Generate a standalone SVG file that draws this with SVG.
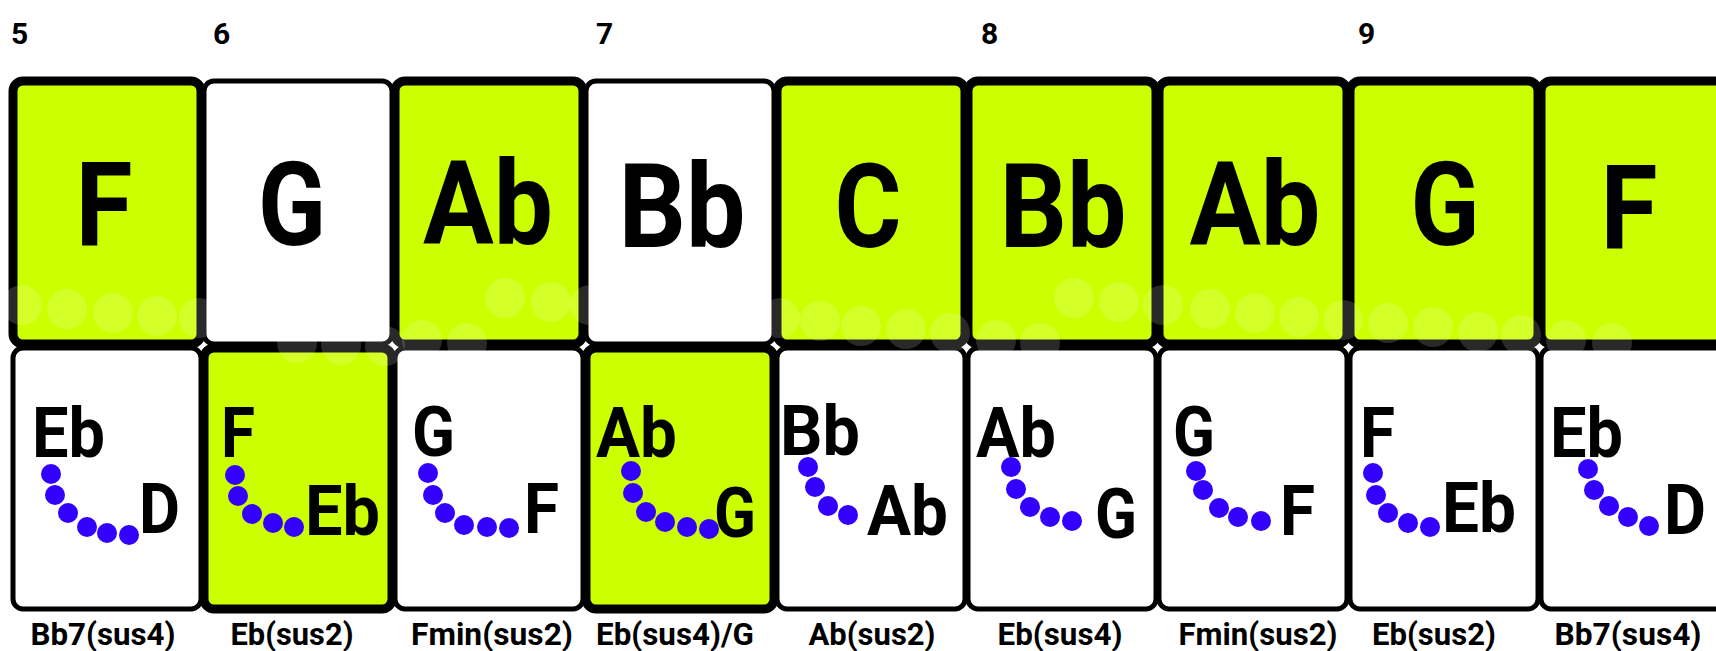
<svg xmlns="http://www.w3.org/2000/svg" width="1716" height="651" viewBox="0 0 1716 651">
<style>
.g{fill:#ccff00;stroke:#000;stroke-width:9}
.w{fill:#fff;stroke:#000;stroke-width:5}
.num{font-family:Roboto,"Liberation Sans",sans-serif;font-weight:700;font-size:30px;fill:#000}
.big{font-family:Roboto,"Liberation Sans",sans-serif;font-weight:700;font-size:117px;fill:#000;text-anchor:middle}
.nt{font-family:Roboto,"Liberation Sans",sans-serif;font-weight:700;font-size:71px;fill:#000}
.lbl{font-family:Roboto,"Liberation Sans",sans-serif;font-weight:700;font-size:31px;fill:#000;text-anchor:middle}
.dot{fill:#3300ff}
.ghost{fill:#fff;opacity:0.16}
</style>
<rect width="1716" height="651" fill="#fff"/>
<g id="measures">
<text class="num" x="11" y="44">5</text>
<text class="num" x="213" y="44">6</text>
<text class="num" x="596" y="44">7</text>
<text class="num" x="981" y="44">8</text>
<text class="num" x="1358" y="44">9</text>
</g>
<g id="top-row">
<rect id="top1" class="g" x="13" y="81" width="188" height="263" rx="10"/>
<rect id="top2" class="w" x="204" y="81" width="188" height="263" rx="10"/>
<rect id="top3" class="g" x="395" y="81" width="188" height="263" rx="10"/>
<rect id="top4" class="w" x="586" y="81" width="188" height="263" rx="10"/>
<rect id="top5" class="g" x="777" y="81" width="188" height="263" rx="10"/>
<rect id="top6" class="g" x="968" y="81" width="188" height="263" rx="10"/>
<rect id="top7" class="g" x="1159" y="81" width="188" height="263" rx="10"/>
<rect id="top8" class="g" x="1350" y="81" width="188" height="263" rx="10"/>
<rect id="top9" class="g" x="1541" y="81" width="188" height="263" rx="10"/>
</g>
<g id="bottom-row">
<rect id="bot1" class="w" x="13" y="348" width="188" height="261" rx="10"/>
<rect id="bot3" class="w" x="395" y="348" width="188" height="261" rx="10"/>
<rect id="bot5" class="w" x="777" y="348" width="188" height="261" rx="10"/>
<rect id="bot6" class="w" x="968" y="348" width="188" height="261" rx="10"/>
<rect id="bot7" class="w" x="1159" y="348" width="188" height="261" rx="10"/>
<rect id="bot8" class="w" x="1350" y="348" width="188" height="261" rx="10"/>
<rect id="bot9" class="w" x="1541" y="348" width="188" height="261" rx="10"/>
<rect id="bot2" class="g" x="204" y="348" width="188" height="261" rx="10"/>
<rect id="bot4" class="g" x="586" y="348" width="188" height="261" rx="10"/>
</g>
<g id="ghosts">
<circle class="ghost" cx="22" cy="305" r="20"/><circle class="ghost" cx="67" cy="309" r="20"/><circle class="ghost" cx="113" cy="313" r="20"/><circle class="ghost" cx="157" cy="316" r="20"/><circle class="ghost" cx="199" cy="318" r="20"/>
<circle class="ghost" cx="297" cy="343" r="20"/><circle class="ghost" cx="341" cy="345" r="20"/><circle class="ghost" cx="385" cy="346" r="20"/><circle class="ghost" cx="422" cy="340" r="20"/><circle class="ghost" cx="467" cy="343" r="20"/>
<circle class="ghost" cx="505" cy="298" r="20"/><circle class="ghost" cx="551" cy="302" r="20"/><circle class="ghost" cx="590" cy="305" r="20"/>
<circle class="ghost" cx="780" cy="318" r="20"/><circle class="ghost" cx="820" cy="321" r="20"/><circle class="ghost" cx="861" cy="326" r="20"/><circle class="ghost" cx="906" cy="329" r="20"/><circle class="ghost" cx="950" cy="333" r="20"/><circle class="ghost" cx="996" cy="340" r="20"/><circle class="ghost" cx="1040" cy="343" r="20"/>
<circle class="ghost" cx="1074" cy="298" r="20"/><circle class="ghost" cx="1119" cy="302" r="20"/><circle class="ghost" cx="1163" cy="305" r="20"/><circle class="ghost" cx="1210" cy="309" r="20"/><circle class="ghost" cx="1255" cy="313" r="20"/><circle class="ghost" cx="1299" cy="317" r="20"/><circle class="ghost" cx="1343" cy="320" r="20"/><circle class="ghost" cx="1388" cy="323" r="20"/><circle class="ghost" cx="1433" cy="327" r="20"/><circle class="ghost" cx="1478" cy="332" r="20"/><circle class="ghost" cx="1521" cy="335" r="20"/><circle class="ghost" cx="1566" cy="340" r="20"/><circle class="ghost" cx="1612" cy="343" r="20"/>
</g>
<g id="top-labels">
<text class="big" x="104" y="245" textLength="57" lengthAdjust="spacingAndGlyphs">F</text>
<text class="big" x="292" y="245" textLength="68" lengthAdjust="spacingAndGlyphs">G</text>
<text class="big" x="488" y="244" textLength="130" lengthAdjust="spacingAndGlyphs">Ab</text>
<text class="big" x="682" y="247" textLength="127" lengthAdjust="spacingAndGlyphs">Bb</text>
<text class="big" x="868" y="247" textLength="67" lengthAdjust="spacingAndGlyphs">C</text>
<text class="big" x="1063" y="247" textLength="127" lengthAdjust="spacingAndGlyphs">Bb</text>
<text class="big" x="1255" y="245" textLength="131" lengthAdjust="spacingAndGlyphs">Ab</text>
<text class="big" x="1445" y="245" textLength="69" lengthAdjust="spacingAndGlyphs">G</text>
<text class="big" x="1629" y="248" textLength="57" lengthAdjust="spacingAndGlyphs">F</text>
</g>
<g id="chord1"><text class="nt" x="32" y="457" textLength="73" lengthAdjust="spacingAndGlyphs">Eb</text><text class="nt" x="139" y="533" textLength="41" lengthAdjust="spacingAndGlyphs">D</text>
<circle class="dot" cx="51" cy="474" r="10"/><circle class="dot" cx="55" cy="495" r="10"/><circle class="dot" cx="68" cy="513" r="10"/><circle class="dot" cx="87" cy="527" r="10"/><circle class="dot" cx="107" cy="533" r="10"/><circle class="dot" cx="129" cy="535" r="10"/></g>
<g id="chord2"><text class="nt" x="221" y="457" textLength="34" lengthAdjust="spacingAndGlyphs">F</text><text class="nt" x="305" y="535" textLength="75" lengthAdjust="spacingAndGlyphs">Eb</text>
<circle class="dot" cx="235" cy="475" r="10"/><circle class="dot" cx="238" cy="496" r="10"/><circle class="dot" cx="252" cy="514" r="10"/><circle class="dot" cx="273" cy="523" r="10"/><circle class="dot" cx="294" cy="527" r="10"/></g>
<g id="chord3"><text class="nt" x="412" y="456" textLength="43" lengthAdjust="spacingAndGlyphs">G</text><text class="nt" x="524" y="533" textLength="35" lengthAdjust="spacingAndGlyphs">F</text>
<circle class="dot" cx="428" cy="473" r="10"/><circle class="dot" cx="433" cy="495" r="10"/><circle class="dot" cx="445" cy="513" r="10"/><circle class="dot" cx="464" cy="525" r="10"/><circle class="dot" cx="487" cy="527" r="10"/><circle class="dot" cx="509" cy="528" r="10"/></g>
<g id="chord4"><text class="nt" x="596" y="457" textLength="81" lengthAdjust="spacingAndGlyphs">Ab</text><text class="nt" x="714" y="537" textLength="42" lengthAdjust="spacingAndGlyphs">G</text>
<circle class="dot" cx="631" cy="471" r="10"/><circle class="dot" cx="633" cy="493" r="10"/><circle class="dot" cx="646" cy="512" r="10"/><circle class="dot" cx="665" cy="522" r="10"/><circle class="dot" cx="687" cy="527" r="10"/><circle class="dot" cx="709" cy="529" r="10"/></g>
<g id="chord5"><text class="nt" x="780" y="455" textLength="80" lengthAdjust="spacingAndGlyphs">Bb</text><text class="nt" x="867" y="535" textLength="81" lengthAdjust="spacingAndGlyphs">Ab</text>
<circle class="dot" cx="808" cy="467" r="10"/><circle class="dot" cx="815" cy="487" r="10"/><circle class="dot" cx="828" cy="506" r="10"/><circle class="dot" cx="848" cy="515" r="10"/></g>
<g id="chord6"><text class="nt" x="976" y="457" textLength="80" lengthAdjust="spacingAndGlyphs">Ab</text><text class="nt" x="1095" y="538" textLength="42" lengthAdjust="spacingAndGlyphs">G</text>
<circle class="dot" cx="1011" cy="467" r="10"/><circle class="dot" cx="1016" cy="489" r="10"/><circle class="dot" cx="1030" cy="507" r="10"/><circle class="dot" cx="1050" cy="517" r="10"/><circle class="dot" cx="1072" cy="521" r="10"/></g>
<g id="chord7"><text class="nt" x="1173" y="456" textLength="42" lengthAdjust="spacingAndGlyphs">G</text><text class="nt" x="1280" y="535" textLength="35" lengthAdjust="spacingAndGlyphs">F</text>
<circle class="dot" cx="1196" cy="471" r="10"/><circle class="dot" cx="1203" cy="490" r="10"/><circle class="dot" cx="1219" cy="508" r="10"/><circle class="dot" cx="1238" cy="517" r="10"/><circle class="dot" cx="1261" cy="521" r="10"/></g>
<g id="chord8"><text class="nt" x="1360" y="457" textLength="35" lengthAdjust="spacingAndGlyphs">F</text><text class="nt" x="1442" y="532" textLength="74" lengthAdjust="spacingAndGlyphs">Eb</text>
<circle class="dot" cx="1373" cy="473" r="10"/><circle class="dot" cx="1376" cy="495" r="10"/><circle class="dot" cx="1388" cy="513" r="10"/><circle class="dot" cx="1408" cy="523" r="10"/><circle class="dot" cx="1430" cy="527" r="10"/></g>
<g id="chord9"><text class="nt" x="1550" y="457" textLength="73" lengthAdjust="spacingAndGlyphs">Eb</text><text class="nt" x="1664" y="534" textLength="42" lengthAdjust="spacingAndGlyphs">D</text>
<circle class="dot" cx="1588" cy="469" r="10"/><circle class="dot" cx="1594" cy="490" r="10"/><circle class="dot" cx="1609" cy="506" r="10"/><circle class="dot" cx="1628" cy="517" r="10"/><circle class="dot" cx="1649" cy="526" r="10"/></g>
<g id="chord-names">
<text class="lbl" x="103" y="645" textLength="145" lengthAdjust="spacingAndGlyphs">Bb7(sus4)</text>
<text class="lbl" x="292" y="645" textLength="123" lengthAdjust="spacingAndGlyphs">Eb(sus2)</text>
<text class="lbl" x="492" y="645" textLength="162" lengthAdjust="spacingAndGlyphs">Fmin(sus2)</text>
<text class="lbl" x="675" y="645" textLength="158" lengthAdjust="spacingAndGlyphs">Eb(sus4)/G</text>
<text class="lbl" x="872" y="645" textLength="127" lengthAdjust="spacingAndGlyphs">Ab(sus2)</text>
<text class="lbl" x="1060" y="645" textLength="125" lengthAdjust="spacingAndGlyphs">Eb(sus4)</text>
<text class="lbl" x="1258" y="645" textLength="159" lengthAdjust="spacingAndGlyphs">Fmin(sus2)</text>
<text class="lbl" x="1434" y="645" textLength="124" lengthAdjust="spacingAndGlyphs">Eb(sus2)</text>
<text class="lbl" x="1628" y="645" textLength="147" lengthAdjust="spacingAndGlyphs">Bb7(sus4)</text>
</g>
<g id="connectors"/>
</svg>
